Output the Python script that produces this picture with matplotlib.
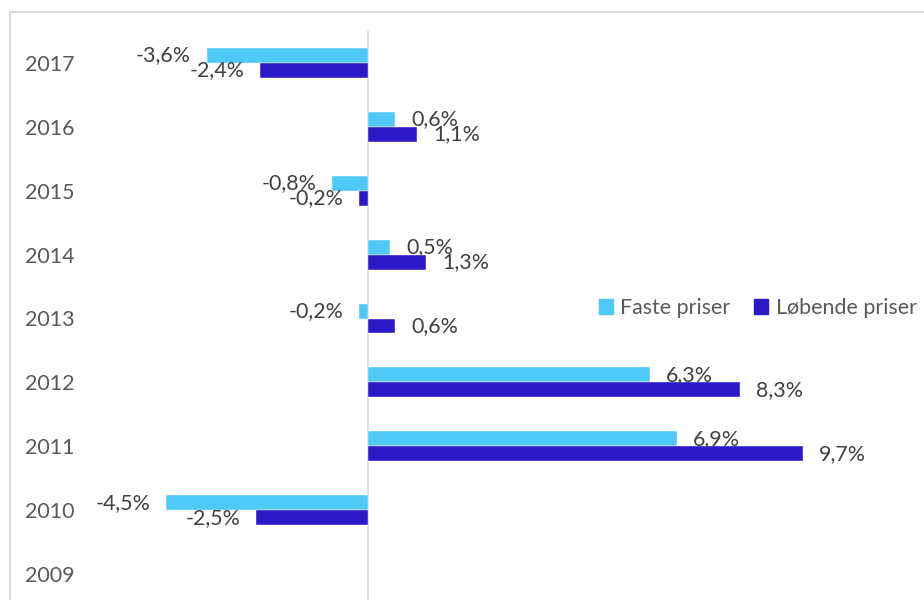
import matplotlib.pyplot as plt
import numpy as np
from matplotlib.patches import Patch, Rectangle

plt.rcParams['font.family'] = ['Lato', 'DejaVu Sans']

years = ["2009", "2010", "2011", "2012", "2013", "2014", "2015", "2016", "2017"]
faste = [np.nan, -4.5, 6.9, 6.3, -0.2, 0.5, -0.8, 0.6, -3.6]
lobende = [np.nan, -2.5, 9.7, 8.3, 0.6, 1.3, -0.2, 1.1, -2.4]

c_faste = "#4fc9f8"
c_lob = "#2b19c9"

W, H = 924, 600
fig = plt.figure(figsize=(W / 100, H / 100), dpi=100)

# plot area in pixels: left 90, top 31, bottom 606 (runs past the image edge)
left_px, top_px, bot_px = 90, 31, 606
ax = fig.add_axes([left_px / W, 1 - bot_px / H, 1 - left_px / W, (bot_px - top_px) / H])

zero_px, px_per = 368, 44.8
ax.set_xlim((left_px - zero_px) / px_per, (W - zero_px) / px_per)
ax.set_ylim(-0.5, len(years) - 0.5)

y = np.arange(len(years))
h = 0.234
ax.barh(y + h / 2, faste, height=h, color=c_faste, edgecolor="white", linewidth=0.3)
ax.barh(y - h / 2, lobende, height=h, color=c_lob, edgecolor="white", linewidth=0.3)

ax.axvline(0, color="#d9d9d9", lw=1.2, zorder=0)

fs = 15.4
off = 16 / px_per
for vals, dy in ((faste, h / 2), (lobende, -h / 2)):
    for yi, v in zip(y, vals):
        if np.isnan(v):
            continue
        txt = f"{v:.1f}".replace(".", ",") + "%"
        if v >= 0:
            ax.text(v + off, yi + dy, txt, ha="left", va="center", fontsize=fs, color="#404040")
        else:
            ax.text(v - off, yi + dy, txt, ha="right", va="center", fontsize=fs, color="#404040")

ax.set_yticks(y)
ax.set_yticklabels(years, fontsize=fs, color="#595959")
ax.set_xticks([])
ax.tick_params(axis="y", length=0, pad=10.8)
for s in ax.spines.values():
    s.set_visible(False)

handles = [Patch(color=c_faste, label="Faste priser"), Patch(color=c_lob, label="Løbende priser")]
fig.legend(handles=handles, loc="center left", bbox_to_anchor=(599 / W, 1 - 308 / H),
           ncol=2, frameon=False, fontsize=fs, handlelength=0.65, handleheight=0.65,
           handletextpad=0.35, columnspacing=1.1, borderpad=0, borderaxespad=0,
           labelcolor="#595959")

# chart border, cut off at right and bottom like the source
fig.patches.append(Rectangle((10, -5), W + 10, H - 12 + 5, transform=None,
                             fill=False, edgecolor="#d9d9d9", lw=1.5))

fig.savefig("out.png", dpi=100)
